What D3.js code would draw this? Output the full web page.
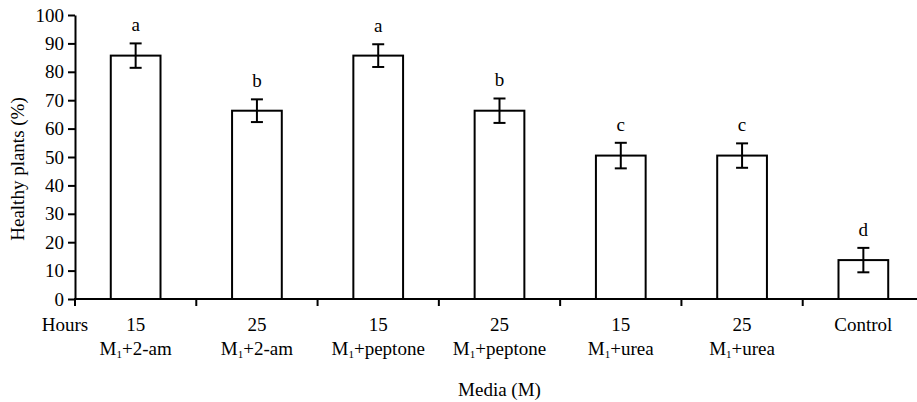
<!DOCTYPE html>
<html>
<head>
<meta charset="utf-8">
<script src="https://cdn.jsdelivr.net/npm/d3@7"></script>
<style>
  body { margin: 0; background: #fff; }
</style>
</head>
<body>
<div id="chart"></div>
<script>
// values
const hours = ["15", "25", "15", "25", "15", "25", "Control"];
const media = ["+2-am", "+2-am", "+peptone", "+peptone", "+urea", "+urea", null];
const healthy = [85.7, 66.3, 85.7, 66.3, 50.5, 50.5, 13.7];
const errors = [4.3, 4.0, 4.0, 4.3, 4.5, 4.3, 4.3];
const letters = ["a", "b", "a", "b", "c", "c", "d"];
const yTicks = [0, 10, 20, 30, 40, 50, 60, 70, 80, 90, 100];

const width = 917, height = 402;
const margin = { top: 15, left: 75, bottom: 103 };
const font = "'Liberation Serif', 'Times New Roman', Times, serif";

const data = healthy.map((v, i) => ({ i, v, err: errors[i], letter: letters[i], hour: hours[i], media: media[i] }));

const svg = d3.select("#chart").append("svg")
  .attr("width", width)
  .attr("height", height)
  .style("font-family", font);

const x = d3.scaleBand()
  .domain(data.map(d => d.i))
  .range([margin.left, 924])
  .padding(0);

const y = d3.scaleLinear()
  .domain([0, 100])
  .range([height - margin.bottom, margin.top]);

const barW = x.bandwidth() * 0.41;
const cx = d => x(d.i) + x.bandwidth() / 2;

// bars
svg.append("g").selectAll("rect")
  .data(data)
  .enter().append("rect")
  .attr("x", d => cx(d) - barW / 2)
  .attr("y", d => y(d.v))
  .attr("width", barW)
  .attr("height", d => y(0) - y(d.v))
  .attr("fill", "#fff")
  .attr("stroke", "#000")
  .attr("stroke-width", 2);

// error bars
const eb = svg.append("g").attr("stroke", "#000").attr("stroke-width", 2);
data.forEach(d => {
  eb.append("line").attr("x1", cx(d)).attr("x2", cx(d)).attr("y1", y(d.v + d.err)).attr("y2", y(d.v - d.err));
  eb.append("line").attr("x1", cx(d) - 6).attr("x2", cx(d) + 6).attr("y1", y(d.v + d.err)).attr("y2", y(d.v + d.err));
  eb.append("line").attr("x1", cx(d) - 6).attr("x2", cx(d) + 6).attr("y1", y(d.v - d.err)).attr("y2", y(d.v - d.err));
});

// significance letters
svg.append("g").selectAll("text")
  .data(data)
  .enter().append("text")
  .attr("x", cx)
  .attr("y", d => y(d.v + d.err) - 12)
  .attr("text-anchor", "middle")
  .style("font-size", "19px")
  .text(d => d.letter);

// y axis
const yAxis = svg.append("g")
  .attr("transform", `translate(${margin.left},0)`)
  .call(d3.axisLeft(y).tickValues(yTicks).tickSize(7).tickSizeOuter(0).tickPadding(4));
yAxis.attr("font-family", null).attr("font-size", null);
yAxis.selectAll("path, line").attr("stroke", "#000").attr("stroke-width", 2);
yAxis.selectAll("text").style("font-size", "19px").style("font-family", font);

// x axis line and band ticks
const xa = svg.append("g").attr("stroke", "#000").attr("stroke-width", 2);
xa.append("line").attr("x1", margin.left - 1).attr("x2", width).attr("y1", y(0)).attr("y2", y(0));
const bounds = data.map(d => x(d.i));
xa.selectAll("line.tick")
  .data(bounds)
  .enter().append("line")
  .attr("class", "tick")
  .attr("x1", d => d).attr("x2", d => d)
  .attr("y1", y(0)).attr("y2", y(0) + 7);

// x labels
svg.append("text")
  .attr("x", 65).attr("y", 331)
  .attr("text-anchor", "middle")
  .style("font-size", "19px")
  .text("Hours");

svg.append("g").selectAll("text")
  .data(data)
  .enter().append("text")
  .attr("x", cx).attr("y", 331)
  .attr("text-anchor", "middle")
  .style("font-size", "19px")
  .text(d => d.hour);

const ml = svg.append("g").selectAll("text")
  .data(data.filter(d => d.media))
  .enter().append("text")
  .attr("x", cx).attr("y", 355)
  .attr("text-anchor", "middle")
  .style("font-size", "19px");
ml.append("tspan").text("M");
ml.append("tspan").attr("dy", 3).style("font-size", "11px").text("1");
ml.append("tspan").attr("dy", -3).text(d => d.media);

svg.append("text")
  .attr("x", (margin.left + 924) / 2).attr("y", 396)
  .attr("text-anchor", "middle")
  .style("font-size", "19px")
  .text("Media (M)");

svg.append("text")
  .attr("transform", `translate(24,${(y(0) + y(100)) / 2 + 12}) rotate(-90)`)
  .attr("text-anchor", "middle")
  .style("font-size", "19px")
  .text("Healthy plants (%)");
</script>
</body>
</html>
